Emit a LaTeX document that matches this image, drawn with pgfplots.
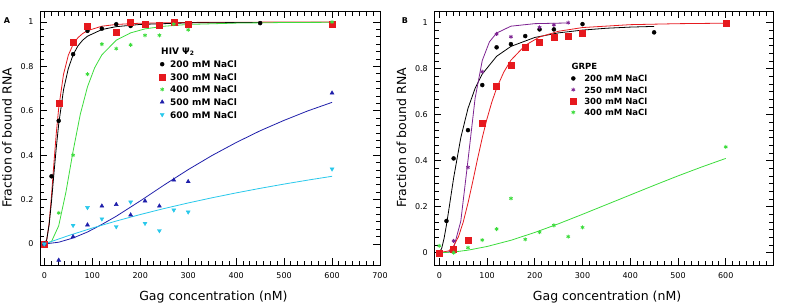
\documentclass[border=0pt]{standalone}
\usepackage{fontspec}
\setmainfont{DejaVu Sans}
\usepackage{pgfplots}
\pgfplotsset{compat=1.18}
\definecolor{cred}{RGB}{230,25,30}
\definecolor{cgreen}{RGB}{60,220,60}
\definecolor{cblue}{RGB}{30,30,170}
\definecolor{ccyan}{RGB}{40,200,235}
\definecolor{cpurple}{RGB}{125,35,145}
\pgfplotsset{
 myax/.style={
  scale only axis, height=254pt,
  xtick={0,100,200,300,400,500,600,700}, minor x tick num=6,
  ytick={0,0.2,0.4,0.6,0.8,1}, minor y tick num=5,
  tick align=inside, xtick pos=both, ytick pos=both,
  major tick length=7pt, minor tick length=4.5pt,
  every tick/.append style={black, line width=0.9pt},
  axis line style={line width=0.9pt},
  /pgf/number format/assume math mode=true,
  ticklabel style={font=\fontsize{8}{9}\selectfont},
  xticklabel style={yshift=-4pt},
  yticklabel style={xshift=-3pt},
  xlabel style={font=\fontsize{12.5}{14}\selectfont, at={(axis description cs:0.51,0)}, anchor=base, yshift=-35pt},
  ylabel style={font=\fontsize{12.5}{14}\selectfont, at={(axis description cs:-0.097,0.5)}, anchor=center},
  xlabel={Gag concentration (nM)}, ylabel={Fraction of bound RNA},
  legend style={draw=none, fill=none, inner sep=0pt, anchor=north west, font=\bfseries\fontsize{9}{10}\selectfont, nodes={inner sep=1pt, text height=7pt, text depth=0pt}, row sep=3.6pt, column sep=4pt},
  legend cell align=left,
 },
 crv/.style={line width=0.8pt, forget plot},
 lg/.style={legend image code/.code={\draw[mark repeat=2,mark phase=2,##1] plot coordinates {(0pt,0pt)(3pt,0pt)(6pt,0pt)};}},
}
\begin{document}
\begin{tikzpicture}
\path[use as bounding box] (-40pt,-41pt) rectangle (747pt,265pt);
% ---------------- Panel A ----------------
\begin{axis}[myax, width=340pt, xmin=-9, xmax=700, ymin=-0.0946, ymax=1.0495,
  legend style={at={(rel axis cs:0.35,0.809)}}]
\addplot[crv, cred] coordinates {(0,0)(5,0.018)(10,0.092)(15,0.218)(20,0.364)(25,0.5)(30,0.612)(40,0.764)(50,0.85)(60,0.899)(70,0.929)(80,0.948)(90,0.961)(120,0.981)(150,0.989)(200,0.9945)(300,0.998)(450,0.9993)(600,0.9996)};
\addplot[crv, black] coordinates {(0,0)(5,0.019)(10,0.086)(15,0.192)(20,0.316)(25,0.435)(30,0.54)(40,0.694)(50,0.79)(60,0.852)(70,0.892)(80,0.918)(90,0.936)(120,0.966)(150,0.979)(200,0.989)(300,0.996)(450,0.998)};
\addplot[crv, cgreen] coordinates {(0,0)(15,0.011)(30,0.082)(45,0.233)(60,0.418)(75,0.584)(90,0.708)(105,0.794)(120,0.852)(150,0.918)(180,0.951)(210,0.969)(250,0.981)(300,0.989)(400,0.995)(500,0.9976)(600,0.9986)};
\addplot[crv, cblue] coordinates {(0,0)(30,0.008)(60,0.027)(90,0.054)(120,0.088)(150,0.125)(200,0.194)(250,0.266)(300,0.335)(350,0.399)(400,0.457)(450,0.51)(500,0.557)(550,0.6)(600,0.638)};
\addplot[crv, ccyan] coordinates {(0,0)(50,0.0375)(100,0.0719)(150,0.1035)(200,0.1327)(250,0.1598)(300,0.1849)(350,0.2083)(400,0.2302)(450,0.2507)(500,0.2699)(550,0.288)(600,0.305)};
\addplot[lg, only marks, mark=*, black, mark size=2pt] coordinates {(0,0)(15,0.305)(30,0.555)(60,0.855)(90,0.96)(120,0.97)(150,0.99)(180,0.982)(210,0.985)(240,0.99)(270,0.995)(300,0.992)(450,0.995)};
\addlegendentry{200 mM NaCl}
\addplot[lg, only marks, mark=square*, cred, mark size=3pt] coordinates {(0,0)(30,0.635)(60,0.91)(90,0.98)(150,0.955)(180,0.997)(210,0.99)(240,0.985)(270,1.0)(300,0.99)(600,0.99)};
\addlegendentry{300 mM NaCl}
\addplot[lg, only marks, mark=asterisk, cgreen, mark size=2pt, line width=0.8pt] coordinates {(0,0)(30,0.14)(60,0.40)(90,0.765)(120,0.90)(150,0.88)(180,0.897)(210,0.94)(240,0.94)(270,0.99)(300,0.965)(600,1.0)};
\addlegendentry{400 mM NaCl}
\addplot[lg, only marks, mark=triangle*, cblue, mark size=2.3pt] coordinates {(0,0)(30,-0.073)(60,0.033)(90,0.086)(120,0.171)(150,0.178)(180,0.131)(210,0.194)(240,0.171)(270,0.288)(300,0.281)(600,0.68)};
\addlegendentry{500 mM NaCl}
\addplot[lg, only marks, mark=triangle*, mark options={rotate=180}, ccyan, mark size=2.3pt] coordinates {(0,0)(60,0.084)(90,0.164)(120,0.113)(150,0.078)(180,0.189)(210,0.093)(240,0.06)(270,0.153)(300,0.144)(600,0.338)};
\addlegendentry{600 mM NaCl}
\node[anchor=west, inner sep=0pt, font=\bfseries\fontsize{9}{10}\selectfont] at (rel axis cs:0.356,0.8386) {HIV Ψ\textsubscript{2}};
\end{axis}
% ---------------- Panel B ----------------
\begin{axis}[myax, at={(394.3pt,0pt)}, width=338.7pt, xmin=-10.5, xmax=699, ymin=-0.0535, ymax=1.051,
  legend style={at={(rel axis cs:0.401,0.753)}, font=\bfseries\fontsize{8.5}{10}\selectfont, row sep=2.3pt, column sep=7pt}]
\addplot[crv, black] coordinates {(0,0)(5,0.019)(10,0.0625)(15,0.121)(20,0.188)(30,0.325)(45,0.5)(60,0.627)(75,0.715)(90,0.777)(120,0.854)(150,0.897)(200,0.936)(250,0.956)(300,0.968)(350,0.976)(400,0.981)(450,0.984)};
\addplot[crv, cpurple] coordinates {(0,0)(20,0.0027)(30,0.0206)(45,0.137)(60,0.401)(75,0.672)(90,0.836)(105,0.917)(120,0.955)(150,0.985)(200,0.996)(270,0.999)};
\addplot[crv, cred] coordinates {(0,0)(20,0.008)(30,0.029)(40,0.069)(50,0.132)(60,0.215)(70,0.309)(80,0.407)(90,0.5)(100,0.583)(110,0.655)(120,0.715)(135,0.785)(150,0.837)(180,0.902)(210,0.938)(250,0.963)(300,0.979)(400,0.9916)(500,0.9959)(600,0.998)};
\addplot[crv, cgreen] coordinates {(0,0)(30,0.003)(60,0.011)(100,0.027)(150,0.054)(200,0.088)(250,0.126)(300,0.167)(350,0.209)(400,0.251)(450,0.293)(500,0.334)(550,0.373)(600,0.41)};
\addplot[lg, only marks, mark=*, black, mark size=2pt] coordinates {(0,0)(15,0.138)(30,0.41)(60,0.533)(90,0.729)(120,0.893)(150,0.907)(180,0.942)(210,0.971)(240,0.971)(300,0.994)(450,0.958)};
\addlegendentry{200 mM NaCl}
\addplot[lg, only marks, mark=asterisk, cpurple, mark size=2pt, line width=0.8pt] coordinates {(0,0)(30,0.051)(60,0.371)(90,0.787)(120,0.951)(150,0.939)(210,0.98)(240,0.991)(270,1.0)};
\addlegendentry{250 mM NaCl}
\addplot[lg, only marks, mark=square*, cred, mark size=3pt] coordinates {(0,0)(30,0.015)(60,0.055)(90,0.565)(120,0.725)(150,0.816)(180,0.893)(210,0.915)(240,0.937)(270,0.942)(300,0.954)(600,1.0)};
\addlegendentry{300 mM NaCl}
\addplot[lg, only marks, mark=asterisk, cgreen, mark size=2pt, line width=0.8pt] coordinates {(0,0.03)(30,0.0)(60,0.022)(90,0.055)(120,0.103)(150,0.236)(180,0.058)(210,0.089)(240,0.119)(270,0.07)(300,0.11)(600,0.46)};
\addlegendentry{400 mM NaCl}
\node[anchor=west, inner sep=0pt, font=\bfseries\fontsize{8.5}{10}\selectfont] at (rel axis cs:0.405,0.78) {GRPE};
\end{axis}
\node[font=\bfseries\fontsize{8}{9}\selectfont] at (-33pt,244pt) {A};
\node[font=\bfseries\fontsize{8}{9}\selectfont] at (365pt,244.3pt) {B};
\end{tikzpicture}
\end{document}
